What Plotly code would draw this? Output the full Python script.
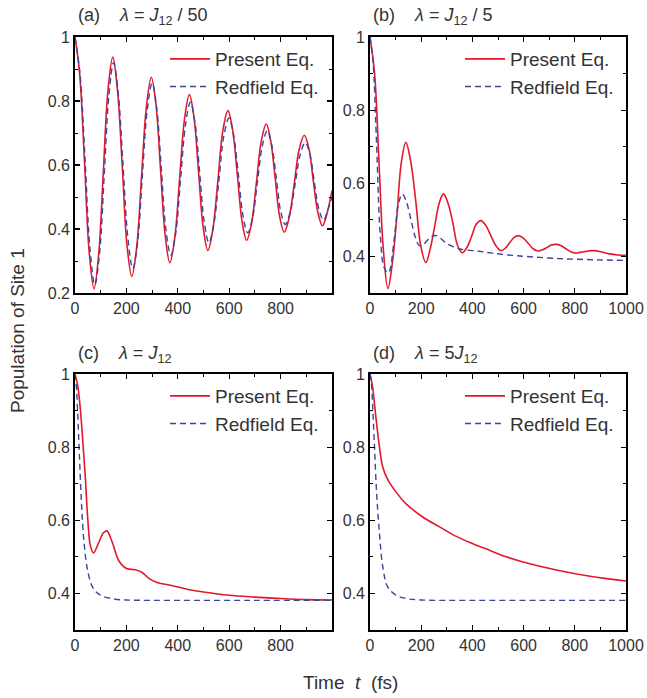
import plotly.graph_objects as go

W, H = 647, 698

# ---------------- data ----------------
# (a) lambda = J12/50
t_a_present = [0, 18, 37, 55, 74, 92, 110, 128, 147, 165, 184, 202, 221, 240, 259, 278, 297,
               315, 333, 351, 369, 388, 407, 426, 445, 463, 481, 499, 517, 536, 556, 575, 595,
               613, 632, 650, 668, 687, 706, 725, 744, 761, 779, 796, 814, 833, 853, 872, 892,
               910, 927, 945, 963, 981, 1000]
v_a_present = [1.0, 0.886, 0.61, 0.329, 0.213, 0.319, 0.575, 0.831, 0.937, 0.837, 0.595, 0.352,
               0.252, 0.343, 0.563, 0.783, 0.874, 0.789, 0.584, 0.379, 0.294, 0.371, 0.557,
               0.743, 0.82, 0.749, 0.576, 0.404, 0.333, 0.397, 0.551, 0.706, 0.77, 0.711, 0.567,
               0.424, 0.365, 0.418, 0.546, 0.675, 0.728, 0.678, 0.559, 0.44, 0.39, 0.434, 0.541,
               0.648, 0.693, 0.652, 0.552, 0.452, 0.41, 0.45, 0.52]
t_a_redfield = [0, 19, 39, 58, 77, 96, 114, 132, 150, 168, 187, 206, 225, 244, 262, 281, 300,
                318, 336, 354, 373, 392, 411, 430, 449, 467, 485, 503, 521, 540, 560, 579, 599,
                617, 636, 654, 672, 691, 710, 729, 748, 765, 783, 800, 818, 837, 857, 876, 896,
                914, 931, 949, 967, 984, 1000]
v_a_redfield = [1.0, 0.889, 0.62, 0.341, 0.226, 0.328, 0.573, 0.818, 0.92, 0.826, 0.598, 0.37,
                0.276, 0.361, 0.566, 0.771, 0.856, 0.777, 0.587, 0.397, 0.318, 0.388, 0.557,
                0.726, 0.796, 0.732, 0.577, 0.421, 0.357, 0.414, 0.552, 0.69, 0.747, 0.694,
                0.567, 0.44, 0.388, 0.435, 0.548, 0.66, 0.707, 0.664, 0.561, 0.457, 0.414,
                0.452, 0.542, 0.632, 0.67, 0.634, 0.548, 0.462, 0.427, 0.46, 0.5]

# (b) lambda = J12/5
t_b_present = [0, 18, 35, 52, 70, 87, 105, 122, 140, 159, 179, 198, 218, 235, 252, 270, 287,
               305, 324, 342, 361, 379, 397, 415, 433, 452, 472, 491, 511, 528, 545, 563, 580,
               599, 618, 637, 657, 674, 691, 708, 726, 745, 765, 784, 804, 820, 837, 853, 870,
               902, 935, 968, 1000]
v_b_present = [1.0, 0.9, 0.66, 0.42, 0.312, 0.38, 0.51, 0.655, 0.712, 0.66, 0.55, 0.43, 0.383,
               0.42, 0.48, 0.545, 0.571, 0.545, 0.49, 0.43, 0.41, 0.425, 0.455, 0.488, 0.498,
               0.485, 0.457, 0.43, 0.416, 0.422, 0.437, 0.452, 0.457, 0.45, 0.436, 0.421, 0.415,
               0.418, 0.424, 0.431, 0.433, 0.43, 0.421, 0.413, 0.409, 0.411, 0.413, 0.415, 0.416,
               0.413, 0.407, 0.404, 0.403]
t_b_redfield = [0, 12, 25, 40, 55, 72, 95, 110, 126, 142, 160, 176, 192, 208, 225, 242, 259,
                280, 300, 348, 426, 478, 540, 609, 739, 870, 1000]
v_b_redfield = [1.0, 0.93, 0.72, 0.46, 0.37, 0.355, 0.45, 0.54, 0.571, 0.55, 0.5, 0.455, 0.43,
                0.432, 0.445, 0.455, 0.457, 0.447, 0.435, 0.421, 0.414, 0.409, 0.404, 0.4, 0.394,
                0.391, 0.389]

# (c) lambda = J12
t_c_present = [0, 10, 20, 30, 40, 50, 60, 72, 90, 110, 124, 145, 170, 200, 235, 260, 290, 320,
               380, 440, 500, 600, 700, 800, 900, 1000]
v_c_present = [1.0, 0.97, 0.91, 0.82, 0.72, 0.6, 0.53, 0.511, 0.535, 0.565, 0.571, 0.54, 0.49,
               0.468, 0.465, 0.458, 0.44, 0.43, 0.421, 0.411, 0.404, 0.395, 0.39, 0.386, 0.383,
               0.382]
t_c_redfield = [0, 5, 10, 17, 25, 35, 50, 70, 100, 150, 200, 400, 700, 1000]
v_c_redfield = [1.0, 0.97, 0.9, 0.78, 0.65, 0.54, 0.46, 0.415, 0.395, 0.385, 0.382, 0.381,
                0.381, 0.381]

# (d) lambda = 5 J12
t_d_present = [0, 10, 23, 37, 50, 69, 102, 141, 206, 272, 337, 402, 467, 533, 598, 728, 859, 1000]
v_d_present = [1.0, 0.965, 0.882, 0.8, 0.745, 0.712, 0.677, 0.645, 0.609, 0.582, 0.556, 0.536,
               0.518, 0.5, 0.486, 0.464, 0.447, 0.434]
t_d_redfield = [0, 4, 8, 17, 26, 37, 50, 69, 102, 141, 200, 400, 700, 1000]
v_d_redfield = [1.0, 0.985, 0.945, 0.81, 0.673, 0.564, 0.473, 0.418, 0.395, 0.386, 0.382,
                0.381, 0.381, 0.381]

series_names = ["Present Eq.", "Redfield Eq."]
x_major_short = [0, 200, 400, 600, 800]
x_major_full = [0, 200, 400, 600, 800, 1000]
x_minor = [100, 300, 500, 700, 900]
y_major_a = [0.2, 0.4, 0.6, 0.8, 1.0]
y_labels_a = ["0.2", "0.4", "0.6", "0.8", "1"]
y_major = [0.4, 0.6, 0.8, 1.0]
y_labels = ["0.4", "0.6", "0.8", "1"]
y_minor = [0.3, 0.5, 0.7, 0.9]
panel_titles = ["(a)&nbsp;&nbsp;&nbsp; <i>λ</i> = <i>J</i><sub>12</sub> / 50",
                "(b)&nbsp;&nbsp;&nbsp; <i>λ</i> = <i>J</i><sub>12</sub> / 5",
                "(c)&nbsp;&nbsp;&nbsp; <i>λ</i> = <i>J</i><sub>12</sub>",
                "(d)&nbsp;&nbsp;&nbsp; <i>λ</i> = 5<i>J</i><sub>12</sub>"]

# ---------------- styling ----------------
RED = "#e3182d"
BLUE = "#3b4799"
FONT = "Liberation Sans, Arial, sans-serif"
TXT = "#333333"


def px_x(x):
    return x / W


def px_y(y):
    return 1 - y / H


# panel boxes in pixels: (left, right, top, bottom)
boxes = [(75, 332, 37, 293), (370, 626, 37, 293), (75, 332, 374, 630), (370, 626, 374, 630)]
data = [(t_a_present, v_a_present, t_a_redfield, v_a_redfield),
        (t_b_present, v_b_present, t_b_redfield, v_b_redfield),
        (t_c_present, v_c_present, t_c_redfield, v_c_redfield),
        (t_d_present, v_d_present, t_d_redfield, v_d_redfield)]

fig = go.Figure()
layout = dict(width=W, height=H, margin=dict(l=0, r=0, t=0, b=0, autoexpand=False),
              paper_bgcolor="white", plot_bgcolor="white", showlegend=True,
              font=dict(family=FONT, color=TXT))
annotations = []

for i, (box, d) in enumerate(zip(boxes, data)):
    n = "" if i == 0 else str(i + 1)
    xa, ya = "x" + n, "y" + n
    lg = "legend" + n
    l, r, t, b = box
    tp, vp, tr, vr = d
    fig.add_trace(go.Scatter(x=tp, y=vp, mode="lines", name=series_names[0],
                             legendgroup="p" + str(i),
                             line=dict(color=RED, width=1.6, shape="spline", smoothing=1.0),
                             xaxis=xa, yaxis=ya, legend=lg))
    fig.add_trace(go.Scatter(x=tr, y=vr, mode="lines", name=series_names[1],
                             legendgroup="r" + str(i),
                             line=dict(color=BLUE, width=1.4, dash="6px,4px", shape="spline",
                                       smoothing=1.0),
                             xaxis=xa, yaxis=ya, legend=lg))
    full = i in (1, 3)
    xv = x_major_full if full else x_major_short
    layout["xaxis" + n] = dict(
        domain=[px_x(l), px_x(r)], anchor=ya, range=[0, 1000], automargin=False,
        showline=True, linecolor="black", linewidth=1.8, mirror="allticks",
        ticks="inside", ticklen=5, tickwidth=1.2, tickcolor="black",
        tickmode="array", tickvals=xv, ticktext=[str(v) for v in xv],
        tickfont=dict(family=FONT, size=16, color=TXT), ticklabeloverflow="allow",
        minor=dict(ticks="inside", ticklen=3, tickwidth=1.0, tickcolor="black",
                   tickmode="array", tickvals=x_minor, showgrid=False),
        showgrid=False, zeroline=False)
    if i == 0:
        yr, yv, yt = [0.2, 1.0], y_major_a, y_labels_a
    else:
        yr, yv, yt = [0.3, 1.0], y_major, y_labels
    layout["yaxis" + n] = dict(
        domain=[px_y(b), px_y(t)], anchor=xa, range=yr, automargin=False,
        showline=True, linecolor="black", linewidth=1.8, mirror="allticks",
        ticks="inside", ticklen=5, tickwidth=1.2, tickcolor="black",
        tickmode="array", tickvals=yv, ticktext=yt,
        tickfont=dict(family=FONT, size=16, color=TXT),
        minor=dict(ticks="inside", ticklen=3, tickwidth=1.0, tickcolor="black",
                   tickmode="array", tickvals=y_minor, showgrid=False),
        showgrid=False, zeroline=False)
    layout[lg] = dict(x=px_x(l + 90), y=px_y(t + 3), xanchor="left", yanchor="top",
                      bgcolor="rgba(0,0,0,0)", borderwidth=0,
                      font=dict(family=FONT, size=19, color=TXT),
                      tracegroupgap=0, itemwidth=40, traceorder="grouped")
    annotations.append(dict(text=panel_titles[i], xref="paper", yref="paper",
                            x=px_x(l + 1), y=px_y(t - 20), xanchor="left", yanchor="middle",
                            showarrow=False, font=dict(family=FONT, size=18, color=TXT)))

annotations.append(dict(text="Population of Site 1", xref="paper", yref="paper",
                        x=px_x(17), y=px_y(331), xanchor="center", yanchor="middle",
                        textangle=-90, showarrow=False,
                        font=dict(family=FONT, size=19, color=TXT)))
annotations.append(dict(text="Time&nbsp; <i>t</i>&nbsp; (fs)", xref="paper", yref="paper",
                        x=px_x(350), y=px_y(682), xanchor="center", yanchor="middle",
                        showarrow=False, font=dict(family=FONT, size=19, color=TXT)))
layout["annotations"] = annotations
fig.update_layout(**layout)

page_fix = ("document.documentElement.style.margin='0';"
            "document.body.style.margin='0';"
            "document.body.style.overflow='hidden';")
fig.write_html("out.html", post_script=page_fix,
               config={"displayModeBar": False, "staticPlot": True})
